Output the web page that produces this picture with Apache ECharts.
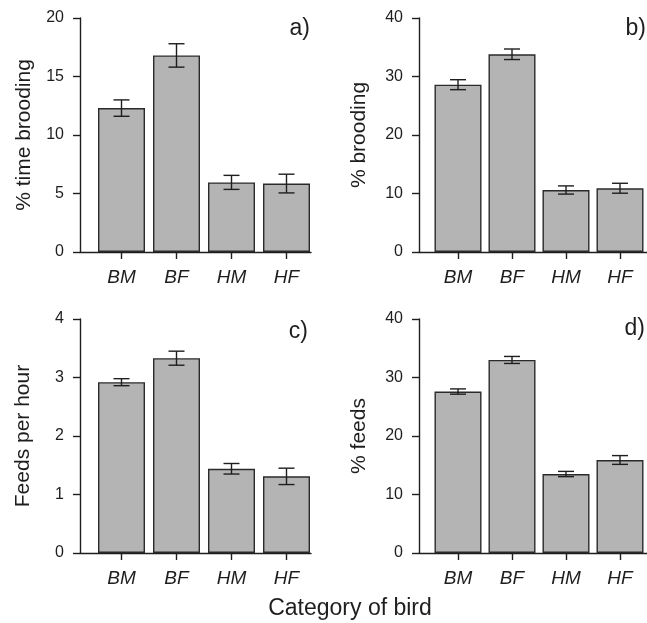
<!DOCTYPE html>
<html>
<head>
<meta charset="utf-8">
<script src="https://cdn.jsdelivr.net/npm/echarts@6/dist/echarts.min.js"></script>
<style>
html,body{margin:0;padding:0;background:#fff;}
#chart{width:647px;height:623px;}
</style>
</head>
<body>
<div id="chart"></div>
<script>
// ---- data ----
const categories = ['BM', 'BF', 'HM', 'HF'];

const timeBrooding   = [12.3, 16.8, 5.95, 5.85];
const timeBroodingSE = [0.7, 1.0, 0.6, 0.8];

const pctBrooding    = [28.6, 33.8, 10.6, 10.9];
const pctBroodingSE  = [0.85, 0.9, 0.7, 0.85];

const feedsPerHour   = [2.92, 3.33, 1.44, 1.31];
const feedsPerHourSE = [0.06, 0.12, 0.09, 0.14];

const pctFeeds       = [27.6, 33.0, 13.5, 15.9];
const pctFeedsSE     = [0.45, 0.6, 0.45, 0.75];

const yMaxes     = [20, 40, 4, 40];
const yIntervals = [5, 10, 1, 10];
const yNames     = ['% time brooding', '% brooding', 'Feeds per hour', '% feeds'];
const panelTags  = ['a)', 'b)', 'c)', 'd)'];
const xTitle     = 'Category of bird';

const means = [timeBrooding, pctBrooding, feedsPerHour, pctFeeds];
const ses   = [timeBroodingSE, pctBroodingSE, feedsPerHourSE, pctFeedsSE];

// ---- layout ----
const layout = [
  {axisX: 80,  barLeft: 94,  right: 311, top: 18,  bottom: 252, tagRight: 337, tagTop: 17,  nameGap: 45},
  {axisX: 419, barLeft: 431, right: 647, top: 18,  bottom: 252, tagRight: 1,   tagTop: 17,  nameGap: 49},
  {axisX: 80,  barLeft: 94,  right: 311, top: 319, bottom: 553, tagRight: 339, tagTop: 320, nameGap: 46},
  {axisX: 419, barLeft: 431, right: 647, top: 319, bottom: 553, tagRight: 2,   tagTop: 317, nameGap: 49}
];

const ink = '#1e1e1e';
const font = 'Liberation Sans, Arial, Helvetica, sans-serif';

const grid = [], xAxis = [], yAxis = [], series = [], title = [];

layout.forEach((L, i) => {
  const h = L.bottom - L.top;
  // frame grid (axis lines / y ticks)
  grid.push({left: L.axisX, top: L.top, width: L.right - L.axisX, height: h});
  // bar grid
  grid.push({left: L.barLeft, top: L.top, width: 220, height: h});

  xAxis.push({
    type: 'value', gridIndex: 2 * i, min: 0, max: 1,
    axisLine: {show: true, lineStyle: {color: ink, width: 1.4}},
    axisTick: {show: false}, axisLabel: {show: false}, splitLine: {show: false}
  });
  xAxis.push({
    type: 'category', gridIndex: 2 * i + 1, data: categories,
    axisLine: {show: false},
    axisTick: {show: true, alignWithLabel: true, length: 7, lineStyle: {color: ink, width: 1.4}},
    axisLabel: {fontSize: 19, fontStyle: 'italic', fontFamily: font, color: ink, margin: 16},
    splitLine: {show: false}
  });

  yAxis.push({
    type: 'value', gridIndex: 2 * i, min: 0, max: yMaxes[i], interval: yIntervals[i],
    axisLine: {show: true, lineStyle: {color: ink, width: 1.4}},
    axisTick: {show: true, length: 7, lineStyle: {color: ink, width: 1.4}},
    axisLabel: {fontSize: 16, fontFamily: font, color: ink, margin: 16},
    splitLine: {show: false},
    name: yNames[i], nameLocation: 'middle', nameGap: L.nameGap,
    nameTextStyle: {fontSize: 21, fontFamily: font, color: ink}
  });
  yAxis.push({
    type: 'value', gridIndex: 2 * i + 1, min: 0, max: yMaxes[i], show: false
  });

  series.push({
    type: 'bar', xAxisIndex: 2 * i + 1, yAxisIndex: 2 * i + 1,
    data: means[i], barWidth: 47,
    itemStyle: {color: '#b4b4b4', borderColor: '#2a2a2a', borderWidth: 1.4},
    silent: true, z: 2
  });
  series.push({
    type: 'custom', xAxisIndex: 2 * i + 1, yAxisIndex: 2 * i + 1,
    data: means[i].map((m, j) => [j, m - ses[i][j], m + ses[i][j]]),
    encode: {x: 0, y: [1, 2]},
    z: 3, silent: true,
    renderItem: function (params, api) {
      const lo = api.coord([api.value(0), api.value(1)]);
      const hi = api.coord([api.value(0), api.value(2)]);
      const w = 8;
      const st = {stroke: ink, lineWidth: 1.4};
      return {
        type: 'group',
        children: [
          {type: 'line', shape: {x1: lo[0], y1: lo[1], x2: hi[0], y2: hi[1]}, style: st},
          {type: 'line', shape: {x1: lo[0] - w, y1: lo[1], x2: lo[0] + w, y2: lo[1]}, style: st},
          {type: 'line', shape: {x1: hi[0] - w, y1: hi[1], x2: hi[0] + w, y2: hi[1]}, style: st}
        ]
      };
    }
  });

  title.push({
    text: panelTags[i], right: L.tagRight, top: L.tagTop, padding: 0,
    textStyle: {fontSize: 23, fontWeight: 'normal', fontFamily: font, color: ink}
  });
});

const chart = echarts.init(document.getElementById('chart'), null, {renderer: 'canvas'});
chart.setOption({
  animation: false,
  backgroundColor: '#fff',
  title: title,
  grid: grid,
  xAxis: xAxis,
  yAxis: yAxis,
  series: series,
  graphic: [{
    type: 'text', x: 350, y: 609,
    style: {text: xTitle, fontSize: 23, fontFamily: font, fill: ink, textAlign: 'center', textVerticalAlign: 'middle'}
  }]
});
</script>
</body>
</html>
